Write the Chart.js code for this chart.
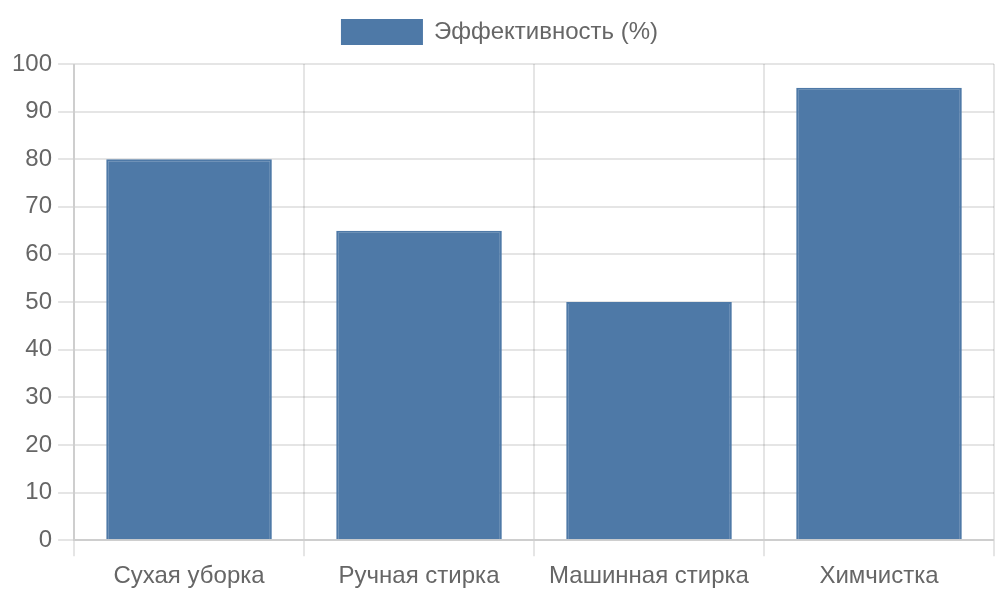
<!DOCTYPE html>
<html><head><meta charset="utf-8">
<script src="https://cdn.jsdelivr.net/npm/chart.js@4"></script>
<style>html,body{margin:0;padding:0;background:#fff;overflow:hidden}#wrap{width:1000px;height:600px}</style>
</head><body><div id="wrap"><canvas id="c"></canvas></div>
<script>
const categories = ["Сухая уборка", "Ручная стирка", "Машинная стирка", "Химчистка"];
const seriesLabel = "Эффективность (%)";
const values = [80, 65, 50, 95];
Chart.defaults.font.family = "'Liberation Sans', Arial, sans-serif";
Chart.defaults.font.size = 24;
Chart.defaults.color = "#666";
const gridOpts = { lineWidth: 2, tickLength: 16, color: 'rgba(0,0,0,0.1)' };
const legendSpacer = {
  id: 'legendSpacer',
  beforeInit(chart) {
    const origFit = chart.legend.fit;
    chart.legend.fit = function () { origFit.bind(chart.legend)(); this.height += 10; };
  }
};
new Chart(document.getElementById('c'), {
  type: 'bar',
  data: { labels: categories, datasets: [{ label: seriesLabel, data: values, backgroundColor: '#4e79a7', borderColor: '#4e79a7', borderWidth: 2 }] },
  options: {
    responsive: true, maintainAspectRatio: false, animation: false,
    layout: { padding: { left: 6, right: 6, top: 0, bottom: 3 } },
    plugins: { legend: { labels: { boxWidth: 80, boxHeight: 24, padding: 20 } } },
    scales: {
      y: { min: 0, max: 100, ticks: { stepSize: 10, padding: 6 }, grid: gridOpts, border: { width: 2 } },
      x: { ticks: { padding: 6 }, grid: gridOpts, border: { width: 2 } }
    }
  },
  plugins: [legendSpacer]
});
</script></body></html>
